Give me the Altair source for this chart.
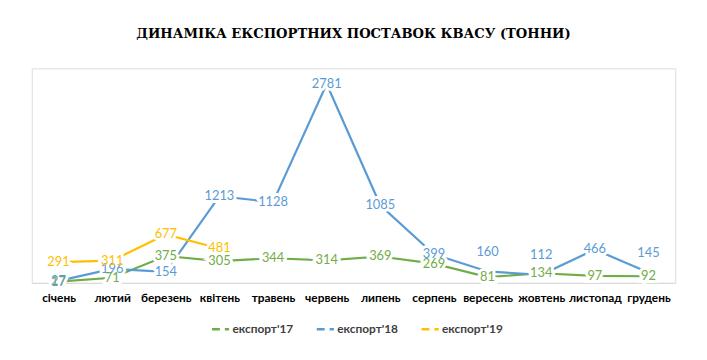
import altair as alt
import pandas as pd

months = ["січень", "лютий", "березень", "квітень", "травень", "червень",
          "липень", "серпень", "вересень", "жовтень", "листопад", "грудень"]
exp17 = [17, 71, 375, 305, 344, 314, 369, 269, 81, 134, 97, 92]
exp18 = [27, 196, 154, 1213, 1128, 2781, 1085, 399, 160, 112, 466, 145]
exp19 = [291, 311, 677, 481]
series_names = ["експорт'17", "експорт'18", "експорт'19"]
colors = ["#70AD47", "#5B9BD5", "#FFC000"]
raised_labels_18 = ["вересень", "жовтень", "грудень"]

rows = []
for name, vals in zip(series_names, [exp17, exp18, exp19]):
    for m, v in zip(months, vals):
        rows.append({"month": m, "series": name, "value": v,
                     "raised": name == "експорт'18" and m in raised_labels_18})
df = pd.DataFrame(rows)

x = alt.X("month:N", sort=months, title=None,
          axis=alt.Axis(labelAngle=0, labelFont="Lato", labelFontSize=12,
                        labelFontWeight="bold", labelColor="#000000",
                        ticks=False, domainColor="#D9D9D9", labelPadding=10,
                        domainWidth=1),
          scale=alt.Scale(paddingInner=0, paddingOuter=0))
y = alt.Y("value:Q", scale=alt.Scale(domain=[0, 3000]), axis=None)
color = alt.Color("series:N", sort=series_names,
                  scale=alt.Scale(domain=series_names, range=colors),
                  legend=alt.Legend(title=None, orient="none", direction="horizontal",
                                    legendX=181, legendY=254,
                                    symbolType="stroke", symbolStrokeWidth=2.5,
                                    symbolDash=[8, 5], symbolSize=300,
                                    labelFont="Lato", labelFontSize=12,
                                    labelFontWeight="bold", labelColor="#404040",
                                    columnPadding=18, labelOffset=2))

base = alt.Chart(df)
lines = base.mark_line(strokeWidth=2.2).encode(x=x, y=y, color=color,
                                                 order=alt.Order("series:N"))

normal = base.transform_filter("!datum.raised")
raised = base.transform_filter("datum.raised")

lab_color = alt.Color("series:N", scale=alt.Scale(domain=series_names, range=colors), legend=None)

halo = normal.mark_text(font="Lato", fontSize=13, stroke="white",
                        strokeWidth=6, fill="white").encode(
    x=x, y=y, text="value:Q")
txt = normal.mark_text(font="Lato", fontSize=13).encode(
    x=x, y=y, text="value:Q", color=lab_color)

halo_r = raised.mark_text(font="Lato", fontSize=13, stroke="white",
                          strokeWidth=6, fill="white", dy=-20).encode(
    x=x, y=y, text="value:Q")
txt_r = raised.mark_text(font="Lato", fontSize=13, dy=-20).encode(
    x=x, y=y, text="value:Q", color=lab_color)

chart = alt.layer(lines, halo, txt, halo_r, txt_r).properties(
    width=651, height=217,
    title=alt.TitleParams("ДИНАМІКА ЕКСПОРТНИХ ПОСТАВОК КВАСУ (ТОННИ)",
                          font="DejaVu Serif", fontSize=13.3, fontWeight="bold",
                          color="#000000", offset=28, anchor="middle"),
    autosize=alt.AutoSizeParams(type="none"),
    padding={"left": 24, "top": 59, "right": 24, "bottom": 76},
).configure_view(stroke=None).configure(background="white")

chart.save("out.html", embed_options={"renderer": "svg", "actions": False})
